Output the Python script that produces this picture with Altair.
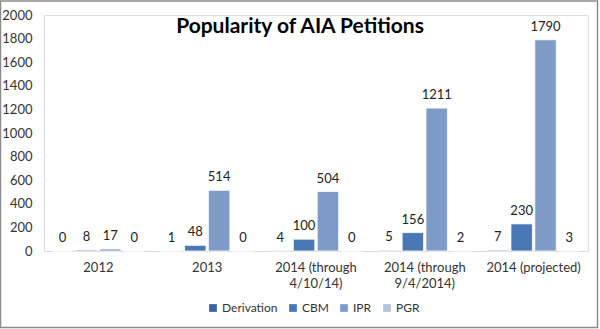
import altair as alt
import pandas as pd

categories = ["2012", "2013", "2014 (through\n4/10/14)", "2014 (through\n9/4/2014)", "2014 (projected)"]
series = ["Derivation", "CBM", "IPR", "PGR"]
derivation = [0, 1, 4, 5, 7]
cbm = [8, 48, 100, 156, 230]
ipr = [17, 514, 504, 1211, 1790]
pgr = [0, 0, 0, 2, 3]
colors = ["#3b64a0", "#4a78b5", "#7f9cc8", "#b3c3e0"]
title_text = "Popularity of AIA Petitions"

rows = []
for i, c in enumerate(categories):
    for s, vals in zip(series, [derivation, cbm, ipr, pgr]):
        rows.append({"cat": c, "series": s, "value": vals[i]})
df = pd.DataFrame(rows)

font = "Lato"

x = alt.X("cat:N", sort=categories, title=None,
          scale=alt.Scale(paddingInner=0.145, paddingOuter=0.0725),
          axis=alt.Axis(labelAngle=0, labelExpr="split(datum.label, '\\n')",
                        labelFontSize=13, labelColor="#333333", labelFont=font,
                        ticks=False, domainColor="#d9d9d9", labelPadding=10,
                        labelLineHeight=16))
xo = alt.XOffset("series:N", sort=series, scale=alt.Scale(paddingInner=0.1))
y = alt.Y("value:Q", title=None,
          scale=alt.Scale(domain=[0, 2000], nice=False),
          axis=alt.Axis(values=list(range(0, 2001, 200)), format="d", labelOverlap=False,
                        grid=False, ticks=False,
                        domainColor="#d9d9d9", labelFontSize=13, labelColor="#333333",
                        labelFont=font, labelPadding=12))

bars = alt.Chart(df).mark_bar(stroke="#ffffff", strokeWidth=0.8).encode(
    x=x, xOffset=xo, y=y,
    color=alt.Color("series:N", sort=series,
                    scale=alt.Scale(domain=series, range=colors),
                    legend=alt.Legend(title=None, orient="none", direction="horizontal",
                                      legendX=163, legendY=287, symbolType="square",
                                      symbolSize=60, symbolStrokeWidth=0,
                                      labelFontSize=12, labelFont=font,
                                      labelColor="#333333", columnPadding=9,
                                      symbolOffset=0, labelOffset=3))
)

labels = alt.Chart(df).mark_text(baseline="bottom", dy=-6, fontSize=13, font=font,
                                 color="#222222").encode(
    x=x, xOffset=xo, y=y, text="value:Q"
)

title = alt.Chart(pd.DataFrame({"t": [title_text]})).mark_text(
    font=font, fontSize=21, fontWeight="bold", color="#000000",
    align="center", baseline="alphabetic"
).encode(x=alt.value(256), y=alt.value(18), text="t:N")

border = alt.Chart(pd.DataFrame({"a": [0]})).mark_rect(
    fill=None, stroke="#8c8c8c", strokeWidth=1.5
).encode(x=alt.value(-43.5), x2=alt.value(553.5), y=alt.value(-14), y2=alt.value(312.5))

chart = alt.layer(bars, labels, title, border).properties(
    width=544, height=236,
    padding={"left": 44, "top": 15, "right": 12, "bottom": 78},
    autosize=alt.AutoSizeParams(type="none"),
).configure_view(stroke=None).configure(background="white")

chart.save("out.html", embed_options={"renderer": "svg", "actions": False})
